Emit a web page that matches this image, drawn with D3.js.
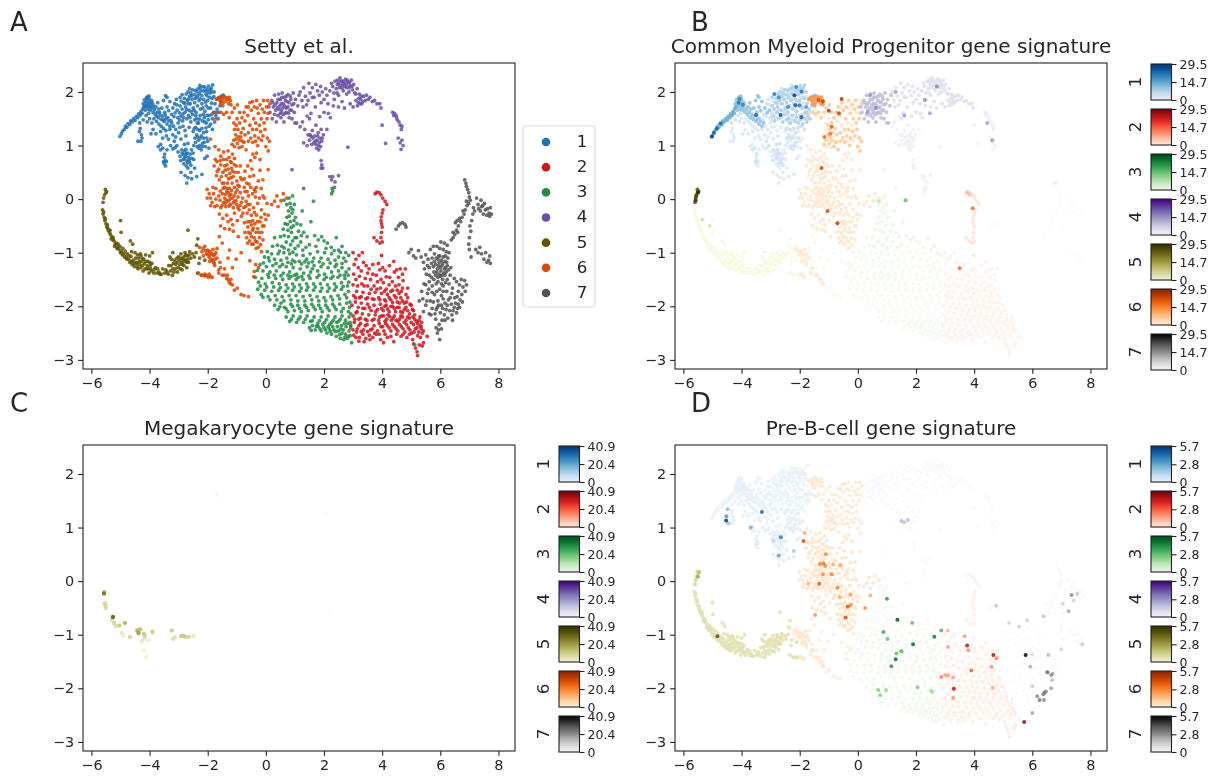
<!DOCTYPE html>
<html>
<head>
<meta charset="utf-8">
<script src="https://cdn.jsdelivr.net/npm/d3@7"></script>
<style>
html, body { margin: 0; padding: 0; background: #fff; }
svg { display: block; filter: blur(0.4px); }
text { font-family: "DejaVu Sans", sans-serif; fill: #262626; }
</style>
</head>
<body>
<div id="chart-area"></div>
<script>
// Values, in data units: [x, y]
const clusterNames = ["1", "2", "3", "4", "5", "6", "7"];
const panelTitles = ["Setty et al.", "Common Myeloid Progenitor gene signature", "Megakaryocyte gene signature", "Pre-B-cell gene signature"];
const panelLetters = ["A", "B", "C", "D"];
const xTicks = [-6, -4, -2, 0, 2, 4, 6, 8];
const yTicks = [-3, -2, -1, 0, 1, 2];
const barMaxB = 29.5, barMidB = 14.7;
const barMaxC = 40.9, barMidC = 20.4;
const barMaxD = 5.7, barMidD = 2.8;

// cluster 1
const c1Tail = [[-5.02,1.17],[-4.97,1.22],[-4.93,1.27],[-4.87,1.3],[-4.83,1.36],[-4.78,1.34],[-4.74,1.41],[-4.68,1.39],[-4.65,1.46],[-4.6,1.44],[-4.55,1.5],[-4.5,1.47],[-4.46,1.54],[-4.41,1.52],[-4.38,1.59],[-4.33,1.56],[-4.3,1.63],[-4.26,1.6],[-4.24,1.68],[-4.2,1.72]];
const c1Blob = [[-4.22,1.78],[-4.18,1.85],[-4.14,1.8],[-4.11,1.88],[-4.07,1.83],[-4.04,1.78],[-4.01,1.86],[-3.98,1.8],[-3.95,1.74],[-4.1,1.72],[-4.15,1.66],[-4.05,1.68],[-3.98,1.66],[-3.92,1.7],[-3.88,1.62],[-3.83,1.67],[-3.8,1.58],[-3.74,1.62],[-3.7,1.52],[-3.64,1.57],[-3.6,1.49],[-3.55,1.55],[-3.5,1.45],[-3.44,1.5],[-3.4,1.4],[-3.35,1.46],[-3.3,1.36],[-3.24,1.42],[-4.09,1.9],[-4.02,1.92],[-4.12,1.75],[-4.0,1.73],[-3.9,1.79],[-3.78,1.72],[-3.68,1.68],[-3.48,1.62],[-3.58,1.7],[-3.72,1.8],[-3.4,1.72],[-3.34,1.65],[-3.52,1.84],[-3.45,1.93],[-3.4,1.9],[-3.3,1.82],[-3.2,1.7],[-3.12,1.61],[-3.05,1.66]];
const c1Top = [[-2.95,1.9],[-2.88,1.95],[-2.8,1.88],[-2.74,1.96],[-2.68,2.0],[-2.62,1.92],[-2.58,1.98],[-2.52,2.04],[-2.46,1.95],[-2.42,2.03],[-2.38,1.9],[-2.33,2.06],[-2.28,1.97],[-2.24,2.08],[-2.2,1.93],[-2.15,2.02],[-2.1,2.09],[-2.06,1.96],[-2.02,2.05],[-1.97,2.11],[-1.92,1.98],[-1.88,2.07],[-1.83,2.13],[-1.78,2.0],[-2.95,1.74],[-2.88,1.68],[-2.82,1.8],[-2.76,1.72],[-2.7,1.84],[-2.64,1.66],[-2.6,1.78],[-2.54,1.86],[-2.5,1.7],[-2.45,1.8],[-2.4,1.62],[-2.35,1.74],[-2.3,1.84],[-2.25,1.68],[-2.2,1.78],[-2.14,1.86],[-2.1,1.64],[-2.05,1.74],[-2.0,1.84],[-1.95,1.56],[-1.9,1.7],[-1.85,1.88],[-1.8,1.62],[-1.75,1.78],[-1.7,1.86],[-1.68,1.68],[-1.62,1.88],[-1.58,1.74],[-1.52,1.92],[-1.47,1.94],[-2.72,1.5],[-2.66,1.56],[-2.58,1.44],[-2.52,1.58],[-2.45,1.48],[-2.38,1.5],[-2.32,1.42],[-2.26,1.56],[-2.18,1.46],[-2.12,1.52],[-2.05,1.42],[-1.98,1.48],[-1.9,1.4],[-1.84,1.5],[-1.76,1.44],[-2.86,1.46],[-2.92,1.55],[-2.78,1.62],[-1.72,1.56],[-1.64,1.5]];
const c1Mid = [[-4.0,1.5],[-4.08,1.44],[-3.92,1.42],[-3.85,1.5],[-3.76,1.45],[-3.68,1.4],[-3.6,1.36],[-3.52,1.32],[-3.44,1.28],[-3.3,1.3],[-3.18,1.36],[-3.1,1.3],[-3.02,1.42],[-2.96,1.34],[-2.85,1.36],[-2.78,1.28],[-2.64,1.34],[-4.32,1.32],[-4.28,1.2],[-4.35,1.26],[-4.26,1.14],[-4.3,1.08],[-4.4,1.08],[-3.95,1.22],[-3.88,1.3],[-3.78,1.22],[-3.62,1.26],[-3.55,1.14],[-3.42,1.18],[-3.35,1.12],[-3.2,1.2],[-3.1,1.16],[-3.0,1.24],[-2.92,1.12],[-2.75,1.18]];
const c1Low = [[-2.5,1.26],[-2.42,1.34],[-2.38,1.2],[-2.32,1.1],[-2.28,1.28],[-2.22,1.18],[-2.18,1.04],[-2.14,1.14],[-2.08,0.98],[-2.04,1.26],[-2.0,1.08],[-1.96,0.95],[-2.42,1.06],[-2.36,0.98],[-2.28,1.0],[-2.22,0.92],[-2.48,1.0],[-2.56,0.92],[-3.02,0.88],[-2.95,0.8],[-2.88,0.86],[-2.84,0.74],[-2.8,0.9],[-2.76,0.8],[-2.72,0.72],[-2.7,0.86],[-2.66,0.78],[-2.62,0.68],[-2.6,0.84],[-2.56,0.76],[-2.5,0.86],[-2.48,0.74],[-2.82,0.66],[-2.74,0.62],[-2.68,0.58],[-3.28,1.0],[-3.2,0.94],[-3.12,0.96],[-3.4,0.92],[-3.5,0.78],[-3.46,0.72],[-3.5,0.66],[-3.45,0.62],[-3.42,0.7],[-3.62,1.02],[-3.7,0.98],[-2.92,0.5],[-2.78,0.44],[-2.58,0.5],[-2.45,0.58],[-2.38,0.42],[-2.2,0.46],[-2.55,0.38],[-2.72,0.3],[-2.68,0.4],[-2.1,0.76],[-2.02,0.8]];
const c1Extra = [[-4.16,1.73],[-4.06,1.91],[-3.93,1.84],[-3.86,1.74],[-3.76,1.55],[-3.66,1.62],[-3.53,1.48],[-3.46,1.57],[-3.37,1.52],[-3.27,1.47],[-3.16,1.54],[-3.03,1.52],[-2.97,1.61],[-2.85,1.59],[-2.73,1.67],[-2.67,1.78],[-2.57,1.63],[-2.47,1.66],[-2.43,1.88],[-2.34,1.93],[-2.26,1.87],[-2.17,1.7],[-2.08,1.81],[-2.03,1.93],[-1.94,1.9],[-1.87,1.79],[-1.79,1.91],[-1.92,2.04],[-2.09,2.02],[-2.24,2.02],[-2.37,2.0],[-2.55,1.93],[-2.66,1.87],[-2.79,1.79],[-2.91,1.83],[-3.06,1.76],[-2.97,1.48],[-2.83,1.52],[-2.61,1.52],[-2.41,1.56],[-2.29,1.49],[-2.15,1.58],[-2.02,1.56],[-1.86,1.58],[-2.47,1.31],[-2.34,1.3],[-2.2,1.32],[-2.14,1.24],[-2.06,1.33],[-2.26,1.14],[-2.35,1.16],[-2.44,1.14],[-2.12,1.06],[-2.03,1.14],[-2.3,0.95],[-2.19,0.98],[-2.9,0.92],[-2.83,0.83],[-2.79,0.77],[-2.73,0.85],[-2.69,0.68],[-2.64,0.73],[-2.75,0.93],[-2.58,0.63],[-2.93,0.72],[-3.52,0.7],[-3.48,0.84],[-3.55,0.95],[-3.62,0.92],[-3.15,1.08],[-3.06,1.0],[-2.8,1.02],[-2.68,1.04],[-4.34,1.42],[-4.22,1.48],[-4.12,1.56],[-4.03,1.6],[-3.14,1.78],[-3.24,1.58],[-3.08,1.86],[-2.62,2.06],[-2.27,2.12],[-2.15,2.1],[-2.0,2.0],[-1.86,2.0],[-1.98,1.7],[-1.7,1.62],[-1.55,1.82],[-1.62,1.62],[-2.36,1.42],[-2.1,1.44],[-1.95,1.36],[-1.84,1.3]];
// cluster 6
const c6Peak = [[-1.68,1.87],[-1.62,1.9],[-1.58,1.84],[-1.54,1.91],[-1.5,1.86],[-1.46,1.8],[-1.44,1.92],[-1.4,1.88],[-1.37,1.83],[-1.34,1.9],[-1.3,1.86],[-1.28,1.78],[-1.25,1.9],[-1.22,1.84],[-1.2,1.76],[-1.56,1.78],[-1.48,1.74]];
const c6Top = [[-1.78,1.62],[-1.72,1.5],[-1.55,1.62],[-1.45,1.58],[-1.35,1.62],[-1.26,1.52],[-1.16,1.62],[-1.08,1.7],[-0.98,1.76],[-0.9,1.62],[-0.82,1.52],[-0.75,1.62],[-0.68,1.72],[-0.62,1.56],[-0.55,1.8],[-0.5,1.66],[-0.42,1.5],[-0.4,1.72],[-0.32,1.84],[-0.26,1.6],[-0.2,1.76],[-0.12,1.68],[-0.08,1.84],[0.02,1.72],[0.08,1.6],[0.14,1.78],[0.04,1.5],[-0.06,1.42],[-0.16,1.5],[-1.02,1.38],[-0.96,1.3],[-0.9,1.42],[-0.85,1.24],[-0.78,1.32],[-0.72,1.2],[-0.95,1.16],[-1.04,1.2],[-1.1,1.1],[-1.16,1.02],[-0.98,1.04],[-0.9,1.1],[-0.82,0.98],[-0.75,1.06],[-0.68,0.92],[-0.6,1.24],[-0.52,1.14],[-0.46,1.3],[-0.38,1.18],[-0.32,1.3],[-0.25,1.14],[-0.18,1.26],[-0.1,1.18],[-0.03,1.3],[0.05,1.14],[0.12,1.08],[-0.6,1.08],[-0.45,1.06],[-0.28,1.0],[0.0,0.98],[0.08,0.9]];
const c6Mid = [[-1.9,1.12],[-1.75,0.98],[-1.62,0.92],[-1.55,0.8],[-1.45,0.88],[-1.35,0.74],[-1.3,0.9],[-1.22,0.7],[-1.15,0.84],[-1.08,0.76],[-1.02,0.62],[-1.78,0.62],[-1.68,0.7],[-1.62,0.56],[-1.55,0.64],[-1.48,0.5],[-1.42,0.62],[-1.36,0.44],[-1.3,0.56],[-1.24,0.48],[-1.18,0.58],[-1.12,0.42],[-1.06,0.5],[-1.7,0.44],[-1.6,0.36],[-1.5,0.3],[-1.42,0.22],[-1.32,0.3],[-1.25,0.2],[-1.16,0.3],[-1.08,0.22],[-1.0,0.34],[-0.92,0.24],[-0.82,0.36],[-0.74,0.22],[-0.66,0.3],[-0.95,0.5],[-0.88,0.62],[-0.72,0.52],[-0.62,0.62],[-0.55,0.42],[-0.48,0.56],[-0.42,0.44],[-0.58,0.28],[-0.4,0.18],[-0.32,0.86],[0.08,0.55],[-0.38,0.78],[-0.2,0.74],[-0.45,0.84],[-2.02,0.18],[-1.95,0.1],[-2.02,0.02],[-1.9,0.02],[-1.85,-0.06],[-1.8,0.1],[-1.72,0.0],[-1.68,-0.12],[-1.62,0.06],[-1.58,-0.02],[-1.55,-0.16],[-1.5,0.1],[-1.46,-0.06],[-1.42,0.02],[-1.38,-0.14],[-1.34,0.14],[-1.3,-0.04],[-1.26,0.06],[-1.22,-0.1],[-1.18,0.16],[-1.15,0.02],[-1.12,-0.16],[-1.08,-0.04],[-1.04,0.12],[-1.0,-0.1],[-0.96,0.04],[-0.92,-0.2],[-0.88,0.12],[-0.84,-0.06],[-0.8,0.02],[-0.76,-0.16],[-0.72,0.14],[-0.68,-0.04],[-0.64,-0.26],[-0.6,0.06],[-0.55,-0.1],[-0.5,-0.3],[-0.46,0.1],[-0.42,-0.16],[-0.36,0.04],[-0.32,-0.3],[-0.28,-0.08],[-0.22,0.02],[-0.15,-0.2],[-0.1,0.06],[-0.05,0.02],[0.04,-0.08],[0.2,-0.1],[0.3,-0.04],[0.38,0.06],[0.42,-0.14],[0.52,-0.03],[0.6,0.1],[0.72,0.02],[-1.6,-0.28],[-1.48,-0.36],[-1.35,-0.3],[-1.2,-0.38],[-1.08,-0.26],[-0.98,-0.4],[-0.84,-0.32],[-0.74,-0.44],[-0.62,-0.52],[-0.54,-0.42],[-0.46,-0.58],[-0.38,-0.46],[-0.28,-0.55],[-0.2,-0.42],[-0.14,-0.62],[-0.06,-0.5],[0.0,-0.38],[0.08,-0.3],[-0.72,-0.62],[-0.66,-0.72],[-0.6,-0.62],[-0.56,-0.78],[-0.5,-0.7],[-0.44,-0.84],[-0.4,-0.72],[-0.34,-0.92],[-0.3,-0.8],[-0.22,-0.72],[-0.18,-0.85],[-0.1,-0.76],[-1.25,-0.56],[-1.12,-0.6],[-0.95,-0.7]];
const c6Low = [[-2.28,-0.9],[-2.2,-0.98],[-2.15,-1.06],[-2.1,-0.88],[-2.05,-1.02],[-2.0,-0.95],[-1.95,-1.08],[-1.92,-0.98],[-1.88,-1.12],[-1.85,-1.02],[-1.8,-1.18],[-1.8,-1.05],[-1.76,-1.24],[-1.75,-1.12],[-1.72,-1.0],[-1.68,-0.92],[-1.62,-1.32],[-1.58,-1.18],[-1.5,-1.42],[-1.42,-1.3],[-1.9,-1.44],[-2.05,-1.42],[-2.2,-1.42],[-2.32,-1.38],[-2.1,-1.4],[-1.98,-1.46],[-1.35,-1.48],[-1.32,-1.42],[-1.26,-1.55],[-1.2,-1.5],[-1.15,-1.6],[-1.08,-1.7],[-0.98,-1.66],[-0.85,-1.78],[-0.75,-1.8],[-0.6,-1.82],[-1.15,-1.28],[-1.3,-1.1],[-1.25,-0.95],[-1.6,-0.7],[-1.5,-0.82],[-1.02,-1.12],[-0.85,-1.0],[-0.55,-1.15],[-0.4,-1.35],[-0.42,-1.45],[-0.25,-1.28],[-0.35,-1.22],[-0.15,-0.98]];
const c6Extra = [[-1.57,0.15],[-1.47,0.2],[-1.39,0.09],[-1.36,-0.02],[-1.27,-0.13],[-1.23,0.0],[-1.2,0.09],[-1.12,-0.07],[-1.09,0.06],[-1.03,-0.03],[-0.99,0.17],[-1.4,-0.08],[-1.33,0.2],[-1.29,0.12],[-1.51,-0.12],[-1.44,0.3],[-1.53,0.42],[-1.4,0.54],[-1.34,0.64],[-1.28,0.38],[-1.2,0.4],[-1.14,0.52],[-1.26,0.78],[-1.18,0.68],[-1.08,0.64],[-1.57,0.72],[-1.46,0.74],[-1.67,0.52],[-1.74,0.74],[-0.96,-0.16],[-0.89,-0.12],[-0.79,-0.26],[-0.7,-0.14],[-0.63,-0.1],[-0.57,-0.2],[-0.45,-0.4],[-0.39,-0.25],[-0.34,-0.62],[-0.29,-0.42],[-0.24,-0.62],[-0.17,-0.34],[-0.12,-0.5],[-0.04,-0.28],[-0.62,-0.42],[-0.5,-0.48],[-0.43,-0.54],[-0.48,-0.84],[-0.36,-0.78],[-0.26,-0.9],[-0.54,-0.64],[-0.63,-0.82],[-1.08,1.3],[-1.02,1.12],[-1.08,0.98],[-0.92,0.96],[-0.86,1.16],[-0.8,1.08],[-0.99,1.5],[-1.1,1.42],[-0.72,1.46],[-0.55,1.38],[-0.35,1.42],[-0.22,1.38],[-0.6,1.72],[-0.46,1.82],[-0.3,1.7],[-0.05,1.62],[0.06,1.84],[-0.15,1.1],[-0.35,1.08],[-1.56,-0.5],[-1.42,-0.55],[-1.3,-0.42],[-1.14,-0.48],[-1.95,-0.98],[-1.82,-0.94],[-2.08,-0.96],[-2.16,-0.92],[-1.76,-1.04],[-1.9,-1.03],[-1.84,-1.14],[-1.78,-1.2],[-1.93,-1.16],[-2.0,-1.04],[-1.68,-1.1],[-1.95,-1.4],[-1.85,-1.46],[-1.42,-1.42],[-1.22,-1.58],[-1.3,-1.5],[-1.62,-1.38],[-1.56,-1.28],[-1.72,0.2],[-1.82,0.22],[-1.9,-0.12],[-1.76,-0.14],[-0.96,0.26],[-0.87,0.4],[-0.74,0.38],[-0.64,0.14],[-0.52,0.22],[-0.33,0.22],[-0.26,0.34],[-0.16,0.2],[-0.36,0.14],[-0.52,0.72],[-0.2,0.54],[-0.1,0.36]];
// cluster 4
const c4Blob = [[0.1,1.72],[0.14,1.62],[0.2,1.84],[0.22,1.5],[0.26,1.72],[0.3,1.94],[0.34,1.66],[0.38,1.8],[0.42,1.56],[0.44,1.96],[0.48,1.74],[0.5,1.86],[0.54,1.64],[0.56,1.98],[0.6,1.78],[0.63,1.9],[0.66,1.6],[0.7,1.7],[0.73,1.82],[0.76,1.95],[0.8,1.52],[0.83,1.66],[0.86,1.86],[0.9,1.76],[0.94,1.98],[0.98,1.62],[1.02,1.86],[1.06,1.42],[1.1,1.74],[1.14,1.94],[0.36,1.44],[0.3,1.58],[0.46,1.68],[0.58,1.7],[0.68,1.84],[0.52,1.52],[0.62,1.44],[0.76,1.72],[0.9,1.5],[1.0,1.42],[0.32,1.76],[0.42,1.86],[0.53,1.78],[0.64,1.74],[0.71,1.62],[0.8,1.8],[0.88,1.66],[0.96,1.78],[0.4,1.7],[0.5,1.6],[0.6,1.58],[0.78,1.6],[0.24,1.8],[0.7,1.92],[0.84,1.92],[0.55,1.9]];
const c4Arc = [[1.18,2.0],[1.24,1.84],[1.3,2.08],[1.36,1.92],[1.4,1.76],[1.48,2.16],[1.52,1.98],[1.6,2.08],[1.66,1.9],[1.72,2.14],[1.78,2.02],[1.84,1.94],[1.88,2.1],[1.94,2.0],[2.0,1.86],[2.06,2.06],[2.1,1.94],[2.14,1.78],[2.2,2.02],[2.26,2.16],[2.3,2.1],[2.34,1.98],[2.38,2.2],[2.42,2.06],[2.46,2.14],[2.5,1.94],[2.55,2.26],[2.58,2.12],[2.62,2.2],[2.66,2.02],[2.7,2.16],[2.74,2.24],[2.78,2.08],[2.82,2.18],[2.86,2.0],[2.9,2.12],[2.94,2.22],[2.98,2.04],[3.02,2.14],[3.06,1.98],[3.1,1.84],[3.14,2.06],[3.18,1.8],[3.22,1.96],[3.26,1.86],[3.3,1.78],[3.36,1.92],[3.42,1.84],[3.46,1.94],[3.52,1.86],[3.58,1.9],[3.66,1.82],[3.74,1.84],[3.82,1.78],[3.92,1.78],[3.96,1.7],[2.5,2.16],[2.65,2.14],[2.8,2.22],[2.72,2.1],[2.45,1.98],[2.35,1.86],[2.62,1.82],[2.78,1.96],[2.9,1.78],[3.0,1.72],[2.7,1.7],[2.15,1.6],[2.32,1.74],[2.5,1.72],[2.0,1.62],[1.7,1.72],[1.55,1.6],[1.5,1.5],[1.85,1.54],[2.22,1.52],[2.47,2.22],[2.58,2.2],[2.68,2.2],[2.77,2.14],[2.88,2.18],[2.53,2.08],[2.63,2.07],[2.86,2.08],[2.96,2.1],[3.1,1.96],[3.2,1.88],[3.28,1.92],[3.34,1.82],[3.15,1.74],[3.24,1.78],[1.6,1.9],[1.45,1.84],[1.28,1.72],[1.9,1.8]];
const c4Low = [[1.18,1.35],[1.26,1.44],[1.34,1.3],[1.42,1.55],[1.45,1.2],[1.5,1.1],[1.56,1.17],[1.6,1.28],[1.65,1.05],[1.68,1.18],[1.72,1.38],[1.76,1.1],[1.8,1.24],[1.82,1.0],[1.86,1.14],[1.9,1.3],[1.92,1.08],[1.98,1.2],[2.1,1.3],[1.3,1.05],[1.42,1.0],[1.75,0.95],[1.82,0.92],[1.9,0.72],[1.92,0.64],[1.96,0.58],[1.9,0.58],[2.2,0.42],[2.26,0.36],[2.3,0.42],[2.38,0.32],[2.5,0.44],[2.36,0.22],[1.3,0.2],[0.9,0.55],[2.82,0.97],[4.0,1.38],[4.12,1.04],[4.36,1.62],[4.42,1.6],[4.48,1.56],[4.52,1.48],[4.58,1.44],[4.62,1.38],[4.66,1.3],[4.68,1.36],[4.55,1.14],[4.62,1.05],[4.68,1.1],[4.72,1.0],[4.65,0.93],[1.7,1.08],[1.78,1.18],[1.84,1.06],[1.88,0.98],[1.72,1.02],[1.62,1.14],[1.52,1.2],[1.58,1.02],[1.94,1.14],[4.4,1.56],[4.5,1.52]];
// cluster 5
const c5Tip = [[-5.52,0.18],[-5.5,0.12],[-5.55,0.08],[-5.58,0.02],[-5.6,-0.06],[-5.48,0.14]];
const c5Arc = [[-5.62,-0.2],[-5.6,-0.28],[-5.58,-0.24],[-5.56,-0.34],[-5.54,-0.4],[-5.52,-0.37],[-5.5,-0.46],[-5.47,-0.52],[-5.45,-0.48],[-5.42,-0.58],[-5.38,-0.62],[-5.35,-0.66],[-5.3,-0.7],[-5.27,-0.76],[-5.22,-0.78],[-5.18,-0.84],[-5.14,-0.82],[-5.1,-0.9],[-5.05,-0.94],[-5.02,-0.88],[-4.96,-0.98],[-4.92,-0.92],[-4.88,-1.02],[-4.84,-0.97],[-4.8,-1.08],[-4.76,-1.02],[-4.72,-1.12],[-4.68,-1.18],[-4.64,-1.07],[-4.6,-1.22],[-4.56,-1.14],[-4.52,-1.26],[-4.48,-1.1],[-4.44,-1.2],[-4.4,-1.3],[-4.36,-1.16],[-4.32,-1.02],[-4.3,-1.28],[-4.26,-1.1],[-4.22,-1.34],[-4.18,-1.2],[-4.14,-1.04],[-4.1,-1.3],[-4.06,-1.16],[-4.02,-1.38],[-3.98,-1.24],[-3.94,-1.34],[-3.9,-1.0],[-3.86,-1.38],[-3.8,-1.28],[-3.75,-1.38],[-3.68,-1.36],[-3.6,-1.4],[-3.55,-1.3],[-3.48,-1.38],[-3.4,-1.36],[-3.34,-1.24],[-3.28,-1.34],[-3.22,-1.42],[-3.18,-1.2],[-3.12,-1.3],[-3.06,-1.18],[-3.04,-1.36],[-3.0,-1.08],[-2.96,-1.22],[-2.92,-1.02],[-2.88,-1.32],[-2.85,-1.12],[-2.82,-1.24],[-2.78,-1.0],[-2.75,-1.14],[-2.72,-1.28],[-2.7,-1.06],[-2.66,-1.18],[-2.62,-0.98],[-2.58,-1.1],[-2.52,-1.02],[-2.46,-1.08],[-3.2,-1.0],[-3.25,-1.12],[-3.3,-1.08],[-4.62,-0.98],[-4.5,-1.0],[-4.42,-1.04],[-4.0,-1.06],[-5.0,-0.4],[-4.98,-0.62],[-4.66,-0.78],[-4.58,-0.84],[-2.68,-0.58],[-2.4,-1.0],[-2.34,-0.74],[-2.38,-0.86],[-2.3,-1.2],[-2.22,-1.42],[-2.1,-1.43],[-2.35,-1.38],[-2.28,-1.1],[-2.1,-1.14]];
const c5Extra = [[-5.44,-0.54],[-5.36,-0.58],[-5.32,-0.74],[-5.25,-0.72],[-5.2,-0.88],[-5.12,-0.92],[-5.08,-0.84],[-5.0,-1.0],[-4.94,-1.04],[-4.86,-1.08],[-4.78,-1.12],[-4.7,-1.06],[-4.62,-1.16],[-4.54,-1.2],[-4.46,-1.18],[-4.42,-1.26],[-4.34,-1.22],[-4.28,-1.16],[-4.24,-1.24],[-4.2,-1.12],[-4.16,-1.3],[-4.12,-1.16],[-4.08,-1.24],[-4.04,-1.3],[-4.0,-1.18],[-3.96,-1.3],[-3.92,-1.2],[-3.84,-1.32],[-3.72,-1.3],[-3.64,-1.4],[-3.44,-1.32],[-3.36,-1.4],[-3.26,-1.24],[-3.2,-1.3],[-3.16,-1.36],[-3.1,-1.22],[-3.02,-1.28],[-2.98,-1.14],[-2.94,-1.3],[-2.9,-1.1],[-2.86,-1.22],[-2.82,-1.08],[-2.8,-1.16],[-2.76,-1.04],[-2.72,-1.18],[-2.68,-1.12],[-2.64,-1.04],[-2.9,-1.18],[-3.06,-1.1],[-3.14,-1.14],[-4.3,-1.05],[-4.38,-1.1]];
// cluster 3
const c3Top = [[0.62,-0.02],[0.72,-0.1],[0.8,0.02],[0.86,-0.16],[0.92,0.06],[0.78,-0.22],[0.9,-0.26],[0.98,-0.1],[1.02,-0.34],[0.72,-0.34],[0.84,-0.42],[0.95,-0.5],[0.66,-0.46],[0.6,-0.56],[0.76,-0.58],[0.88,-0.62],[1.0,-0.72],[1.12,-0.6],[1.2,-0.48],[1.25,-0.22],[1.3,-0.62],[1.42,-0.7],[1.55,-0.42],[1.64,-0.04],[1.68,-0.68],[1.8,-0.76],[1.92,-0.7],[2.0,-0.78],[2.12,-0.82],[2.25,-0.9],[2.3,0.15],[2.28,0.2],[2.26,0.1],[2.42,-0.72],[2.5,-0.95],[2.62,-0.88],[2.75,-1.0],[2.85,-1.05],[1.5,-0.85],[1.38,-0.9],[1.2,-0.8],[0.5,-0.7],[0.4,-0.86],[0.55,-0.88],[0.7,-0.8],[0.85,-0.85],[1.0,-0.92],[0.3,-0.72]];
const c3Mid = [[-0.05,-1.08],[0.05,-0.98],[0.12,-1.15],[0.2,-1.02],[0.3,-1.12],[0.42,-1.02],[0.52,-1.14],[0.62,-1.0],[0.72,-1.1],[0.82,-1.02],[0.92,-1.14],[1.05,-1.04],[1.15,-1.16],[1.28,-1.05],[1.4,-1.12],[1.52,-1.02],[1.65,-1.1],[1.78,-0.98],[1.9,-1.1],[2.02,-1.0],[2.14,-1.12],[2.26,-1.02],[2.38,-1.14],[2.5,-1.08],[2.62,-1.2],[2.75,-1.16],[-0.2,-1.22],[-0.1,-1.34],[0.02,-1.26],[0.14,-1.36],[0.24,-1.24],[0.36,-1.34],[0.48,-1.26],[0.6,-1.38],[0.7,-1.26],[0.82,-1.36],[0.94,-1.28],[1.06,-1.4],[1.18,-1.3],[1.3,-1.38],[1.42,-1.26],[1.54,-1.36],[1.66,-1.24],[1.78,-1.34],[1.9,-1.26],[2.02,-1.4],[2.14,-1.28],[2.26,-1.36],[2.38,-1.26],[2.5,-1.34],[2.62,-1.28],[2.76,-1.36],[2.86,-1.3],[-0.36,-1.46],[-0.25,-1.55],[-0.14,-1.48],[-0.02,-1.58],[0.1,-1.46],[0.22,-1.56],[0.34,-1.48],[0.46,-1.58],[0.58,-1.5],[0.7,-1.6],[0.8,-1.48],[0.92,-1.58],[1.04,-1.5],[1.16,-1.6],[1.28,-1.5],[1.4,-1.58],[1.52,-1.48],[1.64,-1.58],[1.76,-1.46],[1.88,-1.58],[2.0,-1.5],[2.12,-1.6],[2.24,-1.48],[2.36,-1.58],[2.48,-1.46],[2.6,-1.56],[2.72,-1.48],[2.85,-1.55],[-0.28,-1.68],[-0.16,-1.78],[-0.04,-1.7],[0.08,-1.82],[0.2,-1.72],[0.32,-1.8],[0.44,-1.7],[0.56,-1.82],[0.68,-1.72],[0.8,-1.8],[0.92,-1.7],[1.04,-1.8],[1.16,-1.72],[1.28,-1.82],[1.4,-1.7],[1.52,-1.8],[1.64,-1.7],[1.76,-1.82],[1.88,-1.72],[2.0,-1.84],[2.12,-1.72],[2.24,-1.82],[2.36,-1.7],[2.48,-1.8],[2.6,-1.68],[2.72,-1.78],[2.84,-1.72]];
const c3Low = [[0.3,-1.98],[0.42,-2.06],[0.52,-1.94],[0.64,-2.02],[0.76,-2.1],[0.86,-1.96],[0.98,-2.08],[1.1,-1.98],[1.22,-2.1],[1.34,-1.98],[1.46,-2.08],[1.58,-1.96],[1.7,-2.06],[1.82,-1.98],[1.94,-2.1],[2.06,-1.98],[2.18,-2.08],[2.3,-1.96],[2.42,-2.06],[2.54,-1.96],[2.66,-2.04],[2.78,-1.94],[2.88,-2.02],[0.7,-2.2],[0.82,-2.28],[0.94,-2.18],[1.06,-2.3],[1.18,-2.2],[1.3,-2.3],[1.42,-2.18],[1.54,-2.28],[1.66,-2.2],[1.78,-2.32],[1.9,-2.2],[2.02,-2.3],[2.14,-2.18],[2.26,-2.3],[2.38,-2.2],[2.5,-2.28],[2.62,-2.18],[2.74,-2.26],[2.86,-2.2],[1.5,-2.4],[1.6,-2.36],[1.7,-2.44],[1.8,-2.38],[1.9,-2.46],[2.0,-2.4],[2.1,-2.5],[2.18,-2.42],[2.26,-2.52],[2.34,-2.44],[2.42,-2.56],[2.5,-2.46],[2.56,-2.6],[2.62,-2.5],[2.68,-2.62],[2.74,-2.52],[2.8,-2.6],[2.86,-2.46],[2.46,-2.38],[2.6,-2.36],[2.76,-2.38],[2.2,-2.34],[2.05,-2.44],[2.95,-2.68],[5.12,-2.72]];
const c3Extra = [[0.83,-0.08],[0.93,-0.2],[0.8,-0.32],[0.97,-0.4],[0.74,-0.47],[0.87,-0.53],[1.07,-0.46],[1.06,-0.72],[1.22,-0.68],[0.63,-0.68],[0.78,-0.7],[0.92,-0.78],[1.11,-0.87],[1.27,-0.95],[0.47,-0.97],[0.63,-0.91],[0.78,-0.95],[0.93,-0.99],[0.23,-0.88],[0.09,-1.09],[0.35,-1.2],[0.57,-1.22],[0.76,-1.18],[0.88,-1.21],[1.0,-1.17],[1.23,-1.21],[1.34,-1.17],[1.47,-1.19],[1.6,-1.17],[1.84,-1.17],[1.97,-1.21],[2.21,-1.19],[2.43,-1.22],[2.56,-0.99],[2.68,-1.1],[2.35,-0.96],[2.07,-0.92],[1.72,-0.88],[-0.08,-1.19],[-0.29,-1.33],[0.07,-1.41],[0.29,-1.42],[0.52,-1.43],[0.76,-1.42],[0.87,-1.44],[0.99,-1.42],[1.11,-1.46],[1.23,-1.44],[1.48,-1.43],[1.6,-1.3],[1.83,-1.42],[2.08,-1.46],[2.31,-1.44],[2.55,-1.42],[2.7,-1.42],[2.83,-1.42],[-0.19,-1.62],[0.03,-1.64],[0.27,-1.64],[0.5,-1.65],[0.76,-1.66],[0.98,-1.64],[1.22,-1.66],[1.45,-1.64],[1.7,-1.64],[1.93,-1.66],[2.18,-1.66],[2.42,-1.64],[2.66,-1.63],[2.81,-1.62],[-0.1,-1.83],[0.14,-1.88],[0.38,-1.88],[0.62,-1.9],[0.86,-1.88],[1.1,-1.9],[1.34,-1.9],[1.58,-1.88],[1.82,-1.9],[2.06,-1.9],[2.3,-1.88],[2.54,-1.86],[2.78,-1.84],[0.48,-2.01],[0.7,-2.05],[0.92,-2.0],[1.16,-2.04],[1.4,-2.02],[1.64,-2.01],[1.88,-2.04],[2.12,-2.03],[2.36,-2.01],[2.6,-2.1],[2.84,-2.1],[0.88,-2.24],[1.12,-2.24],[1.36,-2.24],[1.6,-2.27],[1.84,-2.27],[2.08,-2.25],[2.32,-2.26],[2.56,-2.24],[2.7,-2.32],[2.82,-2.32],[1.74,-2.37],[1.96,-2.34],[2.14,-2.38],[2.3,-2.38],[2.4,-2.47],[2.54,-2.53],[2.66,-2.44],[2.72,-2.58],[2.84,-2.56],[2.44,-2.3],[1.56,-2.45],[1.86,-2.42],[2.22,-2.47],[2.58,-2.42],[2.92,-2.4],[2.9,-2.55],[2.9,-2.3],[2.92,-2.14],[2.89,-1.92]];
// cluster 2
const c2Spike = [[3.76,0.1],[3.82,0.13],[3.9,0.12],[3.96,0.08],[4.02,0.02],[4.1,-0.04],[4.16,-0.1],[4.03,-0.2],[4.0,-0.26],[3.97,-0.33],[3.96,-0.4],[3.98,-0.46],[4.0,-0.52],[3.98,-0.62],[3.72,-0.72],[3.82,-0.78],[3.92,-0.82],[4.0,-0.8],[3.96,-0.72],[3.98,-1.05]];
const c2Body = [[3.0,-1.0],[3.1,-1.12],[3.2,-1.05],[3.32,-1.0],[3.36,-1.18],[3.55,-1.3],[3.68,-1.22],[3.8,-1.42],[3.92,-1.32],[4.02,-1.28],[4.14,-1.45],[4.4,-1.16],[4.56,-1.46],[4.62,-1.3],[4.7,-1.4],[4.8,-1.3],[4.72,-1.52],[4.58,-1.6],[4.42,-1.36],[4.25,-1.24],[3.02,-1.4],[3.1,-1.5],[3.0,-1.6],[3.22,-1.44],[3.3,-1.58],[3.42,-1.48],[3.5,-1.62],[3.6,-1.5],[3.72,-1.62],[3.84,-1.54],[3.94,-1.66],[4.04,-1.56],[4.14,-1.68],[4.24,-1.6],[4.36,-1.7],[4.46,-1.62],[4.58,-1.76],[4.7,-1.66],[4.82,-1.78],[3.02,-1.8],[3.12,-1.72],[3.22,-1.84],[3.34,-1.74],[3.44,-1.86],[3.56,-1.76],[3.66,-1.86],[3.76,-1.74],[3.88,-1.84],[3.98,-1.76],[4.08,-1.88],[4.18,-1.78],[4.3,-1.88],[4.42,-1.8],[4.52,-1.92],[4.64,-1.84],[4.76,-1.94],[4.88,-1.84],[4.96,-1.96],[2.96,-1.98],[3.08,-1.92],[3.18,-2.02],[3.28,-1.94],[3.4,-2.04],[3.5,-1.96],[3.62,-2.08],[3.72,-1.98],[3.84,-2.06],[3.94,-1.96],[4.04,-2.08],[4.14,-1.98],[4.24,-2.1],[4.36,-2.0],[4.46,-2.1],[4.58,-2.02],[4.7,-2.12],[4.82,-2.02],[4.94,-2.14],[5.04,-2.06],[5.12,-2.16],[3.0,-2.18],[3.1,-2.12],[3.2,-2.24],[3.32,-2.14],[3.42,-2.24],[3.54,-2.16],[3.66,-2.26],[3.76,-2.16],[3.88,-2.26],[3.98,-2.18],[4.1,-2.28],[4.2,-2.16],[4.32,-2.26],[4.42,-2.18],[4.54,-2.28],[4.64,-2.18],[4.76,-2.3],[4.88,-2.2],[5.0,-2.3],[5.12,-2.24],[5.22,-2.32],[5.3,-2.2],[5.34,-2.38],[2.92,-2.36],[3.04,-2.3],[3.14,-2.42],[3.26,-2.32],[3.36,-2.44],[3.48,-2.34],[3.6,-2.44],[3.72,-2.36],[3.84,-2.46],[3.96,-2.38],[4.06,-2.46],[4.18,-2.36],[4.3,-2.46],[4.42,-2.38],[4.54,-2.46],[4.66,-2.38],[4.78,-2.48],[4.9,-2.4],[5.02,-2.5],[5.14,-2.42],[5.26,-2.48],[5.34,-2.42],[5.42,-2.46],[3.02,-2.54],[3.12,-2.48],[3.22,-2.58],[3.34,-2.52],[3.44,-2.6],[3.56,-2.54],[3.68,-2.58],[3.8,-2.52],[3.95,-2.62],[4.18,-2.58],[4.4,-2.66],[4.65,-2.56],[4.85,-2.58],[5.05,-2.62],[5.42,-2.68],[5.15,-2.78],[5.08,-2.7],[5.2,-2.85],[5.22,-2.92],[5.38,-2.74],[5.55,-2.56]];
const c2Extra = [[3.04,-1.22],[3.18,-1.28],[3.28,-1.34],[3.45,-1.24],[3.5,-1.38],[3.68,-1.4],[3.87,-1.2],[3.96,-1.5],[4.1,-1.34],[4.26,-1.46],[4.35,-1.54],[4.5,-1.32],[3.15,-1.62],[3.38,-1.62],[3.62,-1.68],[3.82,-1.68],[4.08,-1.72],[4.3,-1.72],[4.52,-1.7],[4.66,-1.72],[4.88,-1.66],[3.08,-1.84],[3.28,-1.82],[3.5,-1.84],[3.72,-1.87],[3.92,-1.88],[4.12,-1.9],[4.24,-1.84],[4.36,-1.93],[4.48,-1.84],[4.6,-1.94],[4.7,-1.9],[4.84,-1.92],[3.14,-2.1],[3.34,-2.04],[3.56,-2.02],[3.78,-2.1],[3.98,-2.04],[4.09,-2.0],[4.19,-2.05],[4.3,-2.0],[4.42,-2.04],[4.52,-2.02],[4.64,-2.1],[4.76,-2.06],[4.88,-2.08],[5.0,-1.98],[5.08,-2.08],[3.06,-2.24],[3.26,-2.22],[3.48,-2.26],[3.72,-2.24],[3.92,-2.2],[4.05,-2.18],[4.16,-2.24],[4.26,-2.19],[4.37,-2.22],[4.48,-2.26],[4.6,-2.24],[4.7,-2.2],[4.82,-2.26],[4.94,-2.22],[5.06,-2.2],[5.18,-2.28],[5.27,-2.26],[5.36,-2.3],[3.0,-2.44],[3.2,-2.36],[3.42,-2.36],[3.66,-2.42],[3.9,-2.32],[4.02,-2.38],[4.12,-2.32],[4.24,-2.4],[4.36,-2.34],[4.48,-2.42],[4.6,-2.34],[4.72,-2.42],[4.84,-2.34],[4.96,-2.44],[5.08,-2.34],[5.2,-2.4],[5.3,-2.36],[5.38,-2.5],[5.1,-2.48],[5.22,-2.55],[3.1,-2.58],[3.28,-2.47],[3.5,-2.47],[3.74,-2.5],[3.9,-2.52],[4.1,-2.52],[4.3,-2.56],[4.5,-2.52],[4.72,-2.52],[4.94,-2.52],[5.32,-2.58],[3.2,-2.65],[3.38,-2.66],[3.58,-2.62],[4.05,-2.68],[5.28,-2.72]];
// cluster 7
const c7Arm = [[6.84,0.36],[6.88,0.3],[6.9,0.24],[6.94,0.18],[6.98,0.12],[7.0,0.04],[7.03,-0.02],[6.98,-0.08],[6.92,-0.12],[6.86,-0.2],[6.82,-0.28],[6.75,-0.34],[6.7,-0.42],[6.62,-0.5],[6.56,-0.58],[6.5,-0.66],[6.44,-0.72],[6.38,-0.76],[6.52,-0.44],[6.44,-0.62],[6.58,-0.4],[7.3,-0.1],[7.25,0.02],[7.32,-0.18],[7.4,-0.02],[7.46,-0.12],[7.52,-0.08],[7.55,-0.2],[7.62,-0.18],[7.68,-0.26],[7.72,-0.16],[7.7,-0.32],[7.76,-0.28],[7.18,-0.22],[7.12,-0.28],[7.08,-0.4],[7.02,-0.5],[7.05,-0.6],[7.0,-0.72],[6.98,-0.84],[7.0,-0.94],[7.06,-1.08],[7.22,-0.94],[7.3,-1.0],[7.36,-0.9],[7.42,-1.02],[7.5,-1.12],[7.56,-1.0],[7.6,-1.18],[7.66,-1.14],[7.72,-1.2],[7.7,-1.06],[4.56,-0.5],[4.62,-0.46],[4.7,-0.44],[4.78,-0.47],[4.82,-0.52],[4.48,-0.56],[6.66,-0.36],[6.78,-0.22],[6.6,-0.62],[6.9,-0.04],[7.38,-0.22],[7.48,-0.28],[7.6,-0.3],[7.42,-0.14],[7.14,-0.16]];
const c7Blob = [[4.92,-1.0],[5.0,-0.94],[5.08,-1.06],[5.16,-1.1],[5.25,-0.96],[5.34,-1.08],[5.42,-1.18],[5.5,-1.04],[5.58,-1.12],[5.66,-0.94],[5.72,-1.1],[5.8,-1.02],[5.88,-0.88],[5.94,-1.06],[6.02,-0.8],[6.1,-0.94],[6.18,-1.06],[6.24,-0.86],[6.3,-1.0],[5.62,-1.28],[5.7,-1.2],[5.78,-1.36],[5.84,-1.22],[5.9,-1.3],[5.96,-1.18],[6.02,-1.34],[6.06,-1.24],[6.12,-1.38],[6.18,-1.28],[6.22,-1.18],[6.28,-1.32],[5.84,-1.42],[5.92,-1.46],[6.0,-1.44],[6.08,-1.5],[6.16,-1.42],[6.24,-1.5],[5.52,-1.4],[5.44,-1.58],[5.36,-1.72],[5.28,-1.9],[5.4,-1.86],[5.5,-1.6],[5.56,-1.76],[5.62,-1.54],[5.66,-1.9],[5.72,-1.62],[5.8,-1.78],[5.86,-1.58],[5.92,-1.9],[5.98,-1.68],[6.04,-1.8],[6.1,-1.62],[6.16,-1.94],[6.22,-1.72],[6.3,-1.58],[6.34,-1.84],[6.42,-1.66],[6.48,-1.48],[6.5,-1.84],[6.56,-1.54],[6.62,-1.72],[6.66,-1.6],[6.72,-1.5],[6.74,-1.78],[6.78,-1.64],[6.84,-1.52],[6.86,-1.72],[6.9,-1.6],[6.76,-1.92],[6.66,-2.02],[6.56,-2.12],[6.62,-1.96],[6.48,-2.02],[6.4,-2.16],[6.32,-2.08],[6.26,-2.22],[6.2,-2.06],[6.14,-2.16],[6.08,-2.04],[6.0,-2.12],[5.9,-2.02],[5.82,-2.14],[5.72,-2.04],[5.62,-2.14],[5.5,-1.98],[5.42,-2.1],[5.84,-2.24],[5.96,-2.34],[6.04,-2.42],[5.9,-2.5],[5.98,-2.62],[6.42,-2.26]];
const c7Extra = [[5.92,-1.12],[5.98,-1.06],[6.04,-1.14],[6.1,-1.08],[6.16,-1.16],[6.2,-0.98],[6.26,-1.1],[5.86,-1.1],[5.8,-1.16],[5.76,-1.26],[5.94,-1.24],[6.0,-1.28],[6.08,-1.2],[6.14,-1.3],[6.24,-1.24],[5.88,-1.36],[5.96,-1.4],[6.06,-1.42],[6.2,-1.36],[5.78,-1.5],[5.7,-1.46],[5.62,-1.42],[5.92,-1.54],[6.04,-1.58],[6.18,-1.56],[6.34,-1.42],[5.6,-1.68],[5.72,-1.74],[5.88,-1.72],[6.1,-1.72],[6.28,-1.88],[6.4,-1.76],[6.58,-1.82],[6.68,-1.88],[5.76,-1.92],[5.94,-1.98],[6.1,-1.86],[6.24,-1.98],[6.38,-1.96],[6.52,-1.94],[5.54,-1.9],[5.86,-2.06],[6.04,-1.98],[5.68,-2.16],[6.44,-2.08],[6.6,-2.04],[6.36,-1.28],[6.14,-0.82],[5.98,-0.92],[5.76,-0.88],[5.46,-1.3],[5.56,-1.24],[6.06,-2.26],[6.16,-2.26],[5.86,-2.4],[5.94,-2.44]];

// value of each point group in each signature, same order as the groups
const groupPoints = [c1Tail, c1Blob, c1Top, c1Mid, c1Low, c1Extra, c2Spike, c2Body, c2Extra, c3Top, c3Mid, c3Low, c3Extra, c4Blob, c4Arc, c4Low, c5Tip, c5Arc, c5Extra, c6Peak, c6Top, c6Mid, c6Low, c6Extra, c7Arm, c7Blob, c7Extra];
const groupCluster = [1, 1, 1, 1, 1, 1, 2, 2, 2, 3, 3, 3, 3, 4, 4, 4, 5, 5, 5, 6, 6, 6, 6, 6, 7, 7, 7];
const signatureB = [15, 12, 10, 4.5, 4, 6, 3, 0.8, 0.05, 2.6, 1.2, 0.7, 0.05, 11, 6, 2.8, 24, 0.6, 0.1, 14, 8, 3.2, 0.3, 3.4, 0.4, 0.1, 0.02];
const signatureD = [0.4, 0.5, 0.3, 0.55, 0.6, 0.45, 0.2, 0.3, 0.02, 0.15, 0.28, 0.3, 0.02, 0.1, 0.05, 0.1, 1.5, 1.1, 1.1, 0.5, 0.5, 0.7, 0.4, 0.75, 0.3, 0.15, 0.02];

// points that stand out from their group: [cluster, x, y, value]
const hotB = [[1,-5.02,1.17,28],[1,-4.95,1.24,24],[1,-4.85,1.32,24],[1,-4.72,1.41,22],[5,-5.5,0.13,29],[5,-5.56,0.06,27],[5,-5.58,-0.02,29],[1,-4.07,1.87,21],[1,-4.1,1.8,22],[1,-3.96,1.76,20],[1,-3.5,1.57,24],[1,-2.87,1.96,20],[1,-2.72,1.9,19],[1,-2.18,1.94,28],[1,-2.12,2.09,20],[1,-1.94,2.01,22],[1,-2.15,1.75,25],[1,-2.66,1.57,25],[1,-1.94,1.53,24],[1,-2.4,1.72,20],[1,-2.0,1.75,21],[1,-1.78,1.72,18],[6,-0.56,1.87,26],[6,-1.35,1.85,22],[6,-1.2,1.82,24],[6,-1.0,1.65,25],[6,-0.65,1.6,24],[6,-0.9,1.35,20],[6,-1.15,1.16,19],[6,-0.95,1.22,18],[6,-1.25,0.58,22],[6,-1.04,-0.22,22],[6,-0.7,-0.45,24],[4,0.42,1.94,16],[4,0.62,1.7,17],[4,0.34,1.62,16],[4,1.3,2.0,15],[4,2.72,2.1,17],[4,2.3,1.85,16],[4,1.6,1.56,15],[4,2.48,1.6,14],[4,4.45,1.42,14],[4,4.62,1.1,15],[3,1.64,-0.02,16],[3,0.72,-0.04,8],[2,3.76,0.13,8],[2,3.85,0.08,7],[2,3.95,-0.17,15],[2,3.5,-1.29,15],[5,-5.35,-0.38,7],[5,-5.1,-0.5,6],[7,6.8,0.3,4]];
const hotC = [[5,-5.57,-0.23,30],[5,-5.56,-0.2,14],[5,-5.54,-0.41,12],[5,-5.52,-0.46,11],[5,-5.5,-0.5,10],[5,-5.26,-0.67,34],[5,-5.3,-0.72,9],[5,-5.22,-0.78,11],[5,-5.16,-0.84,9],[5,-5.04,-0.83,14],[5,-4.85,-0.78,18],[5,-4.42,-0.92,19],[5,-4.38,-0.97,22],[5,-4.32,-0.9,18],[5,-4.2,-0.98,14],[5,-4.16,-1.02,11],[5,-3.9,-0.95,14],[5,-4.68,-1.04,12],[5,-4.96,-0.97,6],[5,-4.9,-1.02,5],[5,-4.2,-1.08,7],[5,-4.28,-1.12,6],[5,-4.05,-1.1,4],[5,-4.2,-1.3,3],[5,-4.12,-1.42,3],[5,-3.24,-0.92,13],[5,-3.2,-1.08,8],[5,-3.14,-1.05,9],[5,-2.92,-1.03,13],[5,-2.84,-1.02,14],[5,-2.76,-1.04,13],[5,-2.66,-1.04,12],[5,-2.5,-1.03,6],[1,-1.7,1.6,0.8],[1,2.1,1.25,0.6],[1,2.2,-0.6,0.6]];
const hotD = [[1,-4.48,1.34,2.4],[1,-4.52,1.21,3.4],[1,-4.53,1.13,5.6],[1,-4.46,1.08,2.2],[1,-3.3,1.29,4.4],[1,-3.68,1.0,2.8],[1,-2.65,0.82,4],[1,-2.9,0.76,1.6],[1,-2.72,0.48,3.2],[1,-2.2,0.56,2],[6,-1.83,0.9,2.2],[6,-1.87,0.75,4.2],[6,-1.1,0.5,2.8],[6,-1.3,0.32,3],[6,-1.18,0.33,3.4],[6,-1.12,0.28,3],[6,-0.85,0.31,2.2],[6,-0.6,0.3,2.4],[6,-1.2,0.13,2.8],[6,-0.9,0.13,3.2],[6,-1.7,-0.05,2],[6,-1.33,-0.05,3.8],[6,-0.7,-0.12,3],[6,-0.25,-0.25,2.6],[6,-0.62,-0.3,2.4],[6,-0.35,-0.48,4],[6,-0.25,-0.45,3],[6,0.25,-0.5,2.8],[6,0.43,-0.27,2.2],[6,-1.47,-0.63,2.6],[6,-0.42,-0.68,4.2],[3,1.0,-0.33,4],[3,1.36,-0.72,5.4],[3,1.87,-0.78,3],[3,0.88,-0.95,3.6],[3,1.02,-1.08,3],[3,1.9,-1.18,5],[3,2.87,-0.92,3.4],[3,2.63,-1.04,4.6],[3,1.5,-1.31,3.4],[3,1.33,-1.35,3],[3,1.3,-1.46,5],[3,1.15,-1.59,4],[3,2.05,-1.98,2.6],[3,0.7,-2.03,2.6],[3,0.77,-2.13,2.4],[3,0.97,-2.03,2.2],[3,2.56,-2.07,2],[3,2.52,-2.04,1.8],[2,3.09,-0.92,1.6],[2,3.67,-1.03,2],[2,3.1,-1.23,1.8],[2,3.76,-1.2,4.6],[2,3.8,-1.29,2.2],[2,4.66,-1.38,4.8],[2,4.77,-1.44,2.6],[2,4.6,-1.6,2.2],[2,3.9,-1.67,3],[2,3.0,-1.75,1.8],[2,2.87,-1.79,2.4],[2,3.1,-1.76,2],[2,3.28,-1.8,1.8],[2,4.64,-1.99,1.8],[2,3.3,-2.01,4.8],[2,3.28,-2.18,2.2],[2,5.72,-2.63,5.2],[7,4.76,-0.46,1.8],[7,5.2,-0.78,1.6],[7,5.55,-0.85,1.6],[7,5.82,-0.73,1.6],[7,6.38,-0.66,1.8],[7,5.77,-1.38,5.6],[7,5.93,-1.6,2.4],[7,6.55,-1.38,2.2],[7,6.0,-1.37,1.2],[7,6.52,-1.7,3.8],[7,6.65,-1.75,3],[7,6.7,-1.73,2.4],[7,6.68,-1.85,2],[7,6.42,-2.08,3.4],[7,6.38,-2.11,3.2],[7,6.47,-2.06,3],[7,6.65,-2.0,2.6],[7,6.17,-2.15,3],[7,6.25,-2.22,3.4],[7,6.4,-2.22,3],[7,6.0,-1.96,1.8],[7,6.0,-2.46,2.6],[7,7.35,-0.26,3],[7,7.55,-0.24,1.8],[7,7.42,-0.36,1.6],[7,7.25,-0.56,2.4],[7,7.05,-0.42,1.6],[7,7.72,-1.18,1.8],[7,7.0,-1.27,1.6],[5,-5.5,0.08,2.8],[5,-5.46,0.17,2.2],[5,-4.83,-1.03,4.6],[1,-1.72,2.16,0.3],[4,1.5,1.12,2.2],[4,1.6,1.1,2],[4,1.72,1.14,2]];

const clusterColors = ["#2171b5", "#cb181d", "#238b45", "#6a51a3", "#5f5400", "#d94801", "#525252"];
const olive = d3.interpolateRgbBasis(["#fbfbe8", "#dcdaa4", "#a9a545", "#6a6410", "#302c00"]);
const ramps = [d3.interpolateBlues, d3.interpolateReds, d3.interpolateGreens, d3.interpolatePurples, olive, d3.interpolateOranges, d3.interpolateGreys];

// Layout of the figure
const totalW = 1221, totalH = 780;
const plotW = 432, plotH = 306;
const panelPos = [[83, 63], [675, 63], [83, 445], [675, 445]];

const svg = d3.select("#chart-area").append("svg")
    .attr("width", totalW)
    .attr("height", totalH);

// Escalas
const x = d3.scaleLinear().domain([-6.29, 8.57]).range([0, plotW]);
const y = d3.scaleLinear().domain([-3.17, 2.54]).range([plotH, 0]);

const defs = svg.append("defs");

function drawAxes(g) {
    g.append("g")
        .attr("transform", `translate(0, ${plotH})`)
        .call(d3.axisBottom(x).tickValues(xTicks).tickSize(4.8).tickPadding(4).tickFormat(d3.format("d")));
    g.append("g")
        .call(d3.axisLeft(y).tickValues(yTicks).tickSize(4.8).tickPadding(4).tickFormat(d3.format("d")));
    g.selectAll(".tick text").attr("font-size", 14.4).attr("fill", "#262626");
    g.selectAll(".tick line").attr("stroke", "#222").attr("stroke-width", 1.1);
    g.selectAll(".domain").remove();
    g.append("rect")
        .attr("width", plotW)
        .attr("height", plotH)
        .attr("fill", "none")
        .attr("stroke", "#222")
        .attr("stroke-width", 1.1);
}

function drawPoints(g, rows, radius) {
    g.append("g").selectAll("circle")
        .data(rows)
        .join("circle")
        .attr("cx", d => x(d.x))
        .attr("cy", d => y(d.y))
        .attr("r", radius)
        .attr("fill", d => d.color)
        .attr("fill-opacity", 0.85);
}

// Colorbars for one signature panel
function drawColorbars(panelX, panelY, maxVal, midVal) {
    const barX = panelX + plotW + 44;
    clusterNames.forEach((name, i) => {
        const barTop = panelY + 1 + i * 45;
        const gradId = `grad-${panelX}-${panelY}-${i}`;
        const grad = defs.append("linearGradient")
            .attr("id", gradId)
            .attr("x1", 0).attr("x2", 0).attr("y1", 1).attr("y2", 0);
        d3.range(0, 1.01, 0.1).forEach(t => {
            grad.append("stop")
                .attr("offset", t)
                .attr("stop-color", ramps[i](0.08 + 0.92 * t));
        });
        const bar = svg.append("g").attr("transform", `translate(${barX}, ${barTop})`);
        bar.append("rect")
            .attr("width", 20.5)
            .attr("height", 36)
            .attr("fill", `url(#${gradId})`)
            .attr("stroke", "#222")
            .attr("stroke-width", 1.1);
        const scale = d3.scaleLinear().domain([0, maxVal]).range([36, 0]);
        const axis = bar.append("g")
            .attr("transform", "translate(20.5, 0)")
            .call(d3.axisRight(scale).tickValues([0, midVal, maxVal]).tickSize(5).tickPadding(3)
                .tickFormat(d => d === 0 ? "0" : d.toFixed(1)));
        axis.select(".domain").remove();
        axis.selectAll("line").attr("stroke", "#222").attr("stroke-width", 1.1);
        axis.selectAll("text").attr("font-size", 12.5).attr("fill", "#262626");
        bar.append("text")
            .attr("transform", "translate(-10.5, 18) rotate(-90)")
            .attr("text-anchor", "middle")
            .attr("font-size", 16.7)
            .text(name);
    });
}

// Rows for a signature panel from the groups plus the standout points
function signatureRows(groupValues, hot, maxVal) {
    const rows = [];
    if (groupValues) {
        groupPoints.forEach((pts, i) => {
            const c = groupCluster[i] - 1;
            pts.forEach(p => rows.push({ x: p[0], y: p[1], t: groupValues[i] / maxVal, color: ramps[c](groupValues[i] / maxVal) }));
        });
    }
    hot.forEach(h => rows.push({ x: h[1], y: h[2], t: h[3] / maxVal, color: ramps[h[0] - 1](h[3] / maxVal) }));
    // las claras primero, las oscuras encima
    return rows.sort((a, b) => a.t - b.t);
}

panelPos.forEach((pos, i) => {
    const g = svg.append("g").attr("transform", `translate(${pos[0]}, ${pos[1]})`);
    let rows;
    if (i === 0) {
        rows = [];
        groupPoints.forEach((pts, k) => {
            pts.forEach(p => rows.push({ x: p[0], y: p[1], color: clusterColors[groupCluster[k] - 1] }));
        });
        drawPoints(g, rows, 1.9);
    } else if (i === 1) {
        drawPoints(g, signatureRows(signatureB, hotB, barMaxB), 2);
    } else if (i === 2) {
        drawPoints(g, signatureRows(null, hotC, barMaxC), 2.2);
    } else {
        drawPoints(g, signatureRows(signatureD, hotD, barMaxD), 2);
    }
    drawAxes(g);
    g.append("text")
        .attr("x", plotW / 2)
        .attr("y", -10)
        .attr("text-anchor", "middle")
        .attr("font-size", 20)
        .text(panelTitles[i]);
    svg.append("text")
        .attr("x", i % 2 === 0 ? 10 : 691)
        .attr("y", i < 2 ? 31 : 412)
        .attr("font-size", 26)
        .attr("fill", "#000")
        .text(panelLetters[i]);
});

drawColorbars(panelPos[1][0], panelPos[1][1], barMaxB, barMidB);
drawColorbars(panelPos[2][0], panelPos[2][1], barMaxC, barMidC);
drawColorbars(panelPos[3][0], panelPos[3][1], barMaxD, barMidD);

// Legend
const legend = svg.append("g").attr("transform", "translate(523, 126)");
legend.append("rect")
    .attr("width", 72)
    .attr("height", 181)
    .attr("rx", 2.5)
    .attr("fill", "#fff")
    .attr("stroke", "#d9d9d9")
    .attr("stroke-width", 1.1);
const legendY = d3.scalePoint().domain(clusterNames).range([16, 167]);
clusterNames.forEach((name, i) => {
    legend.append("circle")
        .attr("cx", 23)
        .attr("cy", legendY(name))
        .attr("r", 4.3)
        .attr("fill", clusterColors[i]);
    legend.append("text")
        .attr("x", 59)
        .attr("y", legendY(name) - 1)
        .attr("dy", "0.35em")
        .attr("text-anchor", "middle")
        .attr("font-size", 16.7)
        .text(name);
});
</script>
</body>
</html>
